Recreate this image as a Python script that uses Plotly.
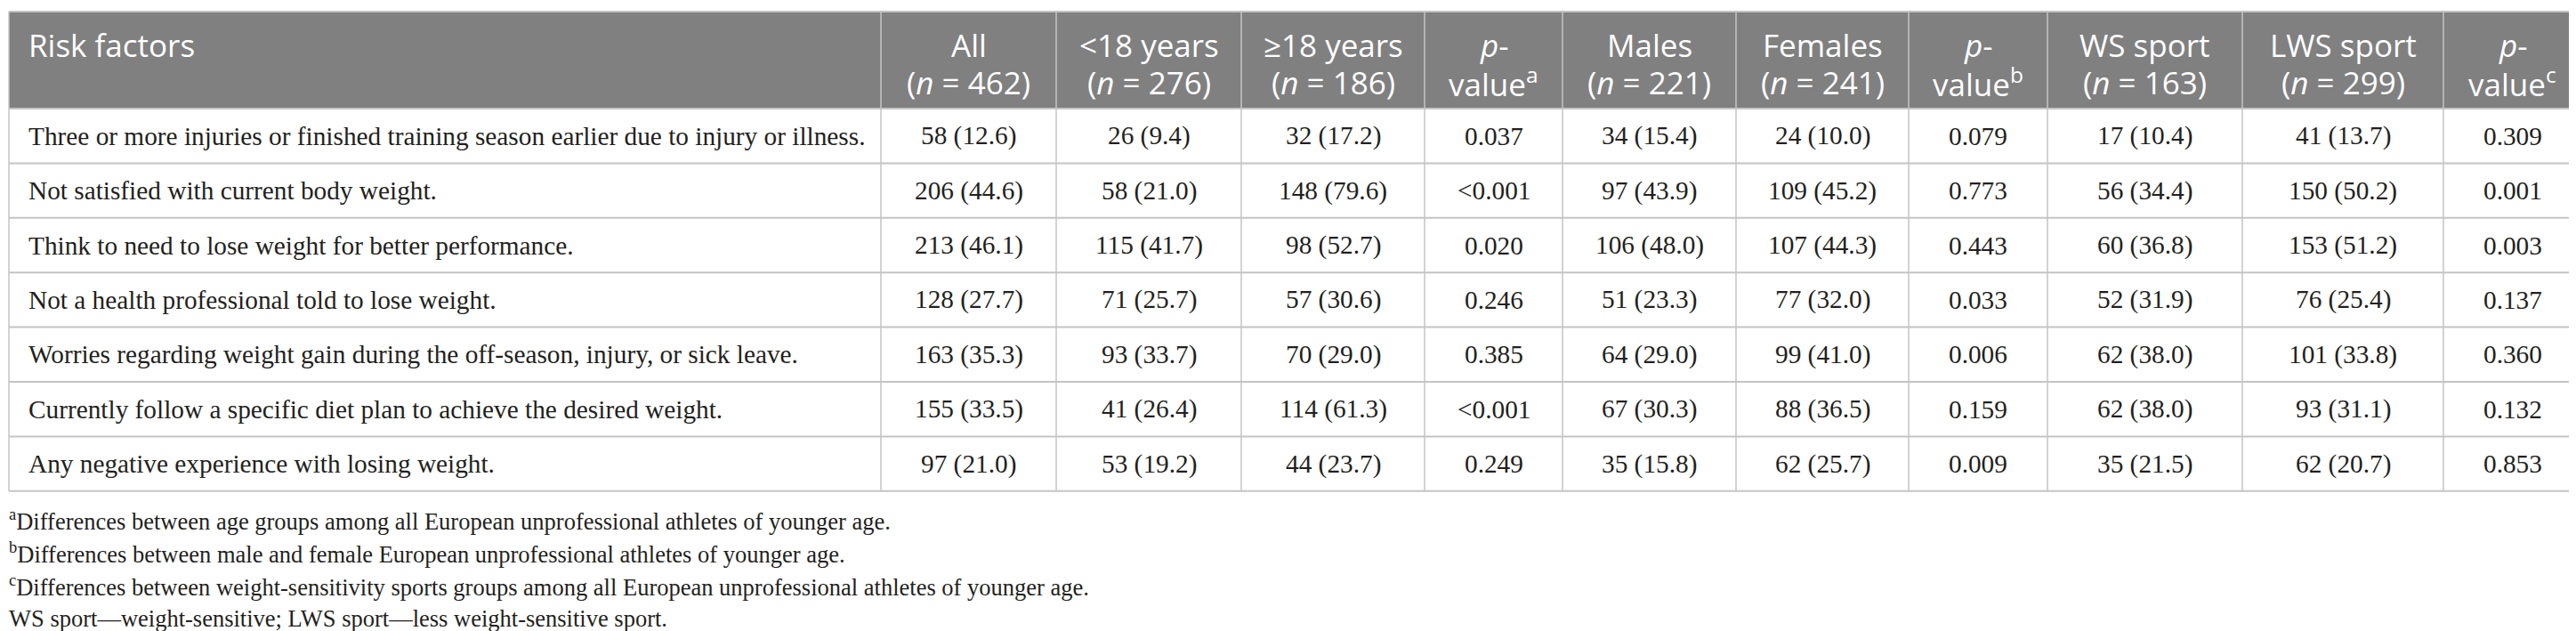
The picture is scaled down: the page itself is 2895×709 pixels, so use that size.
import plotly.graph_objects as go

# ---- table content ----
risk_factors = [
    "Three or more injuries or finished training season earlier due to injury or illness.",
    "Not satisfied with current body weight.",
    "Think to need to lose weight for better performance.",
    "Not a health professional told to lose weight.",
    "Worries regarding weight gain during the off-season, injury, or sick leave.",
    "Currently follow a specific diet plan to achieve the desired weight.",
    "Any negative experience with losing weight.",
]
# header cells: (first line, second line)
col_headers = [
    ("Risk factors", ""),
    ("All", "(<i>n</i> = 462)"),
    ("&lt;18 years", "(<i>n</i> = 276)"),
    ("≥18 years", "(<i>n</i> = 186)"),
    ("<i>p</i>-", "value<sup>a</sup>"),
    ("Males", "(<i>n</i> = 221)"),
    ("Females", "(<i>n</i> = 241)"),
    ("<i>p</i>-", "value<sup>b</sup>"),
    ("WS sport", "(<i>n</i> = 163)"),
    ("LWS sport", "(<i>n</i> = 299)"),
    ("<i>p</i>-", "value<sup>c</sup>"),
]
all_col = ["58 (12.6)", "206 (44.6)", "213 (46.1)", "128 (27.7)", "163 (35.3)", "155 (33.5)", "97 (21.0)"]
under18 = ["26 (9.4)", "58 (21.0)", "115 (41.7)", "71 (25.7)", "93 (33.7)", "41 (26.4)", "53 (19.2)"]
over18 = ["32 (17.2)", "148 (79.6)", "98 (52.7)", "57 (30.6)", "70 (29.0)", "114 (61.3)", "44 (23.7)"]
p_age = ["0.037", "&lt;0.001", "0.020", "0.246", "0.385", "&lt;0.001", "0.249"]
males = ["34 (15.4)", "97 (43.9)", "106 (48.0)", "51 (23.3)", "64 (29.0)", "67 (30.3)", "35 (15.8)"]
females = ["24 (10.0)", "109 (45.2)", "107 (44.3)", "77 (32.0)", "99 (41.0)", "88 (36.5)", "62 (25.7)"]
p_sex = ["0.079", "0.773", "0.443", "0.033", "0.006", "0.159", "0.009"]
ws_sport = ["17 (10.4)", "56 (34.4)", "60 (36.8)", "52 (31.9)", "62 (38.0)", "62 (38.0)", "35 (21.5)"]
lws_sport = ["41 (13.7)", "150 (50.2)", "153 (51.2)", "76 (25.4)", "101 (33.8)", "93 (31.1)", "62 (20.7)"]
p_sport = ["0.309", "0.001", "0.003", "0.137", "0.360", "0.132", "0.853"]
footnotes = [
    "<sup>a</sup>Differences between age groups among all European unprofessional athletes of younger age.",
    "<sup>b</sup>Differences between male and female European unprofessional athletes of younger age.",
    "<sup>c</sup>Differences between weight-sensitivity sports groups among all European unprofessional athletes of younger age.",
    "WS sport—weight-sensitive; LWS sport—less weight-sensitive sport.",
]

columns = [risk_factors, all_col, under18, over18, p_age, males, females, p_sex, ws_sport, lws_sport, p_sport]

# ---- geometry / style ----
W, H = 2895, 709
col_edges = [2, 982, 1179, 1387, 1593, 1748, 1943, 2137, 2293, 2512, 2738, 2893]
header_top, header_bottom = 5, 114
head_lines_y = [42, 84]
row_h = 61.4
text_left = 22
n_rows = len(risk_factors)
table_bottom = header_bottom + n_rows * row_h
header_fill = "#808080"
grid_color = "#c4c4c4"
head_font = dict(family="Open Sans", size=35, color="white")
body_font = dict(family="Liberation Serif", size=29.3, color="#231f20")
note_font = dict(family="Liberation Serif", size=26.5, color="#231f20")

shapes = [dict(type="rect", xref="x", yref="y", x0=col_edges[0], x1=col_edges[-1],
               y0=header_top, y1=header_bottom, fillcolor=header_fill, line_width=0, layer="below")]
# horizontal rules
for k in range(n_rows + 2):
    y = header_top if k == 0 else header_bottom + (k - 1) * row_h
    shapes.append(dict(type="line", xref="x", yref="y", x0=col_edges[0], x1=col_edges[-1],
                       y0=y, y1=y, line=dict(color=grid_color, width=2)))
# vertical rules
for x in col_edges:
    shapes.append(dict(type="line", xref="x", yref="y", x0=x, x1=x,
                       y0=header_top, y1=table_bottom, line=dict(color=grid_color, width=1.5)))

annotations = []
for j, lines in enumerate(col_headers):
    left = j == 0
    for line, y in zip(lines, head_lines_y):
        if not line:
            continue
        annotations.append(dict(
            x=text_left if left else (col_edges[j] + col_edges[j + 1]) / 2,
            y=y, xref="x", yref="y", text=line, showarrow=False,
            xanchor="left" if left else "center", yanchor="middle", font=head_font))

for j, col in enumerate(columns):
    left = j == 0
    for i, val in enumerate(col):
        annotations.append(dict(
            x=text_left if left else (col_edges[j] + col_edges[j + 1]) / 2,
            y=header_bottom + (i + 0.5) * row_h, xref="x", yref="y", text=val, showarrow=False,
            xanchor="left" if left else "center", yanchor="middle", font=body_font))

for i, note in enumerate(footnotes):
    annotations.append(dict(x=0, y=576 + i * 37, xref="x", yref="y", text=note, showarrow=False,
                            xanchor="left", yanchor="middle", font=note_font))

fig = go.Figure()
fig.update_layout(
    width=W, height=H, margin=dict(l=0, r=0, t=0, b=0),
    paper_bgcolor="white", plot_bgcolor="white",
    xaxis=dict(range=[0, W], visible=False, fixedrange=True),
    yaxis=dict(range=[H, 0], visible=False, fixedrange=True),
    shapes=shapes, annotations=annotations, showlegend=False,
)

fig.write_html("out.html")
